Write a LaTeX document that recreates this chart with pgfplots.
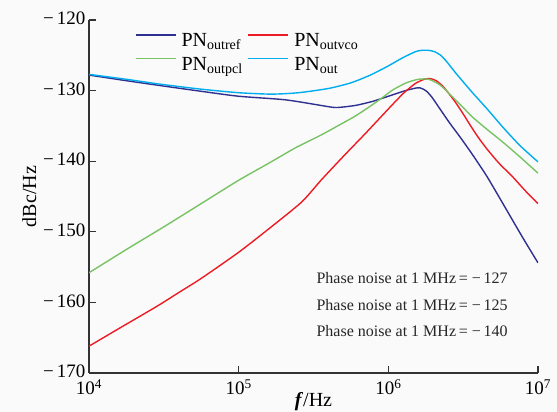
\documentclass[border=0pt]{standalone}
\usepackage{fontspec}
\setmainfont{Liberation Serif}
\usepackage{pgfplots}
\pgfplotsset{compat=1.18}
\usepackage{pgfplotstable}
\usetikzlibrary{backgrounds}

\definecolor{cref}{RGB}{46,49,146}
\definecolor{cvco}{RGB}{237,28,36}
\definecolor{cpcl}{RGB}{120,195,100}
\definecolor{cout}{RGB}{0,174,239}

% L = log10(f/Hz), V = dBc/Hz
\pgfplotstableread{
L V
4.0 -127.8
4.25 -128.6
4.48 -129.3
4.75 -130.1
5.0 -130.8
5.31 -131.3
5.55 -132.1
5.65 -132.4
5.78 -132.1
5.9 -131.5
6.0 -130.8
6.1 -130.1
6.17 -129.7
6.21 -129.6
6.25 -130.0
6.29 -130.9
6.345 -132.6
6.41 -134.6
6.48 -136.6
6.56 -139.0
6.66 -142.2
6.79 -146.9
6.9 -150.9
7.0 -154.4
}\outref

\pgfplotstableread{
L V
4.0 -166.2
4.2 -163.7
4.45 -160.6
4.6 -158.6
4.75 -156.6
5.0 -152.9
5.2 -149.6
5.42 -145.8
5.55 -142.7
5.7 -139.3
5.85 -136.0
6.0 -132.6
6.1 -130.4
6.18 -129.0
6.24 -128.4
6.28 -128.3
6.32 -128.6
6.36 -129.3
6.40 -130.3
6.45 -131.7
6.5 -133.3
6.55 -135.0
6.6 -136.6
6.66 -138.3
6.74 -140.3
6.83 -142.2
6.92 -144.3
7.0 -146.0
}\outvco

\pgfplotstableread{
L V
4.0 -155.8
4.25 -152.5
4.5 -149.3
4.75 -146.0
5.0 -142.7
5.2 -140.3
5.38 -138.1
5.55 -136.3
5.67 -134.9
5.78 -133.6
5.88 -132.2
5.96 -131.0
6.03 -129.9
6.12 -128.9
6.2 -128.4
6.27 -128.4
6.345 -129.2
6.43 -130.9
6.5 -132.4
6.565 -133.8
6.66 -135.5
6.765 -137.3
6.88 -139.4
7.0 -141.7
}\outpcl

\pgfplotstableread{
L V
4.0 -127.7
4.25 -128.4
4.48 -129.1
4.75 -129.8
5.0 -130.3
5.22 -130.5
5.4 -130.3
5.6 -129.7
5.75 -128.9
5.88 -127.8
6.0 -126.5
6.1 -125.3
6.18 -124.5
6.22 -124.3
6.27 -124.3
6.31 -124.5
6.35 -125.0
6.39 -125.9
6.45 -127.5
6.55 -130.0
6.66 -132.6
6.77 -135.3
6.88 -137.8
7.0 -140.1
}\outall

\begin{document}
\begin{tikzpicture}
\begin{axis}[
  scale only axis, width=449pt, height=353pt,
  xmode=log, xmin=1e4, xmax=1e7, ymin=-170, ymax=-120,
  axis lines*=left, tick align=inside, major tick length=7pt,
  axis line style={line width=1.3pt, black!80},
  tick style={line width=1.1pt, black!80},
  xminorticks=false, yminorticks=false,
  xtick={1e4,1e5,1e6,1e7},
  xticklabels={10\textsuperscript{4},10\textsuperscript{5},10\textsuperscript{6},10\textsuperscript{7}},
  ytick={-170,-160,-150,-140,-130,-120},
  yticklabels={−\,170,−\,160,−\,150,−\,140,−\,130,−\,120},
  ticklabel style={font=\fontsize{19}{22}\selectfont},
  xticklabel style={yshift=-3pt},
  yticklabel style={yshift=1.5pt},
  xlabel={\textbf{\textit{f}}/Hz}, ylabel={dBc/Hz},
  label style={font=\fontsize{20}{24}\selectfont},
  xlabel style={yshift=9pt},
  legend columns=2, legend cell align=left,
  legend style={at={(0.102,0.965)}, anchor=north west, draw=none, fill=none,
    font=\fontsize{20}{22}\selectfont, column sep=2pt, row sep=7pt, inner sep=0pt,
    nodes={inner xsep=3pt, inner ysep=1pt}},
  legend image code/.code={\draw[#1, line width=1.6pt] (0pt,6pt) -- (40pt,6pt);},
]
\addplot[cref, line width=1.4pt, smooth, tension=0.4] table[x expr=10^\thisrow{L}, y=V] {\outref};
\addlegendentry{PN\textsubscript{outref}}
\addplot[cvco, line width=1.4pt, smooth, tension=0.4] table[x expr=10^\thisrow{L}, y=V] {\outvco};
\addlegendentry{PN\textsubscript{outvco}}
\addplot[cpcl, line width=1.4pt, smooth, tension=0.4] table[x expr=10^\thisrow{L}, y=V] {\outpcl};
\addlegendentry{PN\textsubscript{outpcl}}
\addplot[cout, line width=1.4pt, smooth, tension=0.4] table[x expr=10^\thisrow{L}, y=V] {\outall};
\addlegendentry{PN\textsubscript{out}}

\node[anchor=west, font=\fontsize{16}{18}\selectfont, black!85] at (rel axis cs:0.499,0.269) {Phase noise at 1 MHz\,= −\,127};
\node[anchor=west, font=\fontsize{16}{18}\selectfont, black!85] at (rel axis cs:0.499,0.193) {Phase noise at 1 MHz\,= −\,125};
\node[anchor=west, font=\fontsize{16}{18}\selectfont, black!85] at (rel axis cs:0.499,0.119) {Phase noise at 1 MHz\,= −\,140};
\end{axis}
\begin{scope}[on background layer]
\fill[black!2] (current axis.south west) ++(-89pt,-39pt) rectangle ++(557pt,412pt);
\end{scope}
\pgfresetboundingbox
\path (current axis.south west) ++(-89pt,-39pt) rectangle ++(557pt,412pt);
\end{tikzpicture}
\end{document}
